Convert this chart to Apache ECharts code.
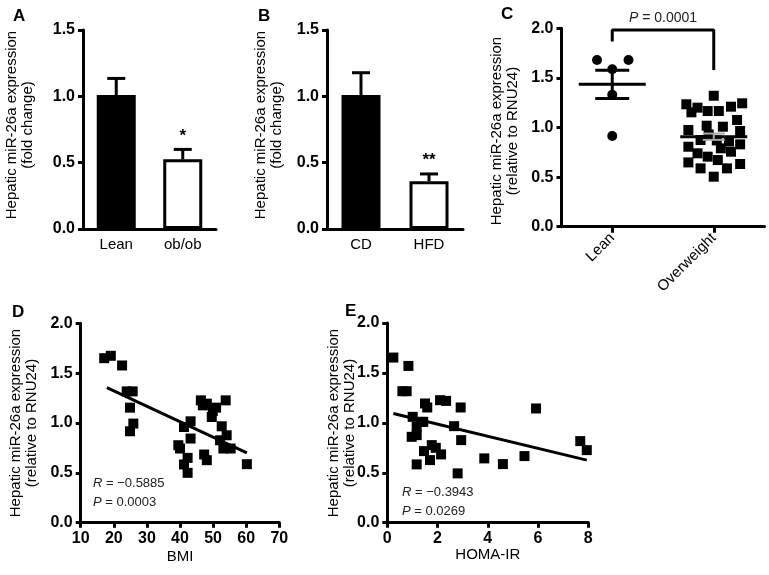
<!DOCTYPE html>
<html><head><meta charset="utf-8">
<script src="https://cdn.jsdelivr.net/npm/echarts@6/dist/echarts.min.js"></script>
<style>html,body{margin:0;padding:0;background:#fff}#c{width:769px;height:575px}</style>
</head><body><div id="c"></div>
<script>
// ---------- Panel A ----------
const catsA = ['Lean', 'ob/ob'];
const meanA = [1.01, 0.525];
const semA = [0.125, 0.075];
const sigA = ['', '*'];
// ---------- Panel B ----------
const catsB = ['CD', 'HFD'];
const meanB = [1.01, 0.36];
const semB = [0.168, 0.055];
const sigB = ['', '**'];
const ticksAB = [0, 0.5, 1.0, 1.5];
// ---------- Panel C ----------
const catsC = ['Lean', 'Overweight'];
const leanC = [1.68, 1.68, 1.587, 1.33, 0.914];
const leanJit = [-0.15, 0.16, 0, 0, 0];
const owC = [1.32, 1.234, 1.153, 1.20, 1.166, 1.166, 1.21, 1.244, 1.076, 0.975, 1.018, 1.008, 0.965, 0.874, 0.87, 0.86, 0.806, 0.83, 0.74, 0.706, 0.672, 0.756, 0.648, 0.588, 0.588, 0.632, 0.504, 0.79, 0.93];
const owJit = [0.0, -0.27, -0.22, -0.16, -0.06, 0.05, 0.17, 0.28, 0.23, -0.25, -0.07, 0.09, 0.26, -0.13, 0.03, 0.15, -0.25, 0.26, -0.16, -0.06, 0.04, 0.17, -0.25, -0.13, 0.13, 0.26, 0.0, 0.07, -0.05];
const meanC = [1.435, 0.907];
const semC = [0.142, 0.032];
const bracketX = [0, 0, 1, 1];
const bracketY = [1.866, 1.983, 1.983, 1.58];
const pC = '0.0001';
const ticksCDE = [0, 0.5, 1.0, 1.5, 2.0];
// ---------- Panel D ----------
const bmi = [17.1, 19.1, 22.5, 23.9, 25.7, 24.9, 24.9, 25.9, 39.5, 40.0, 41.2, 41.2, 42.3, 42.3, 43.2, 43.2, 46.3, 46.9, 48.1, 47.3, 48.1, 49.6, 49.9, 50.9, 52.6, 53.8, 52.1, 54.1, 53.1, 55.3, 60.2];
const exprD = [1.65, 1.674, 1.577, 1.317, 1.317, 1.154, 0.917, 0.994, 0.777, 0.744, 0.96, 0.584, 0.65, 0.50, 1.017, 0.844, 1.227, 1.177, 1.194, 0.684, 0.627, 1.06, 1.12, 1.154, 0.967, 1.227, 0.827, 0.877, 0.744, 0.744, 0.587];
const fitDx = [17.9, 60.2];
const fitDy = [1.354, 0.70];
const ticksBMI = [10, 20, 30, 40, 50, 60, 70];
const rD = '−0.5885', pD = '0.0003';
// ---------- Panel E ----------
const homa = [0.24, 0.84, 0.60, 0.77, 1.01, 1.17, 0.97, 1.17, 1.33, 1.43, 1.50, 1.59, 1.46, 1.77, 1.93, 1.70, 1.17, 2.14, 2.10, 2.34, 2.66, 2.92, 2.94, 2.80, 3.86, 4.60, 5.46, 5.92, 7.68, 7.94];
const exprE = [1.654, 1.57, 1.317, 1.317, 1.06, 0.96, 0.86, 0.877, 1.01, 1.01, 1.194, 1.154, 0.717, 0.777, 0.75, 0.627, 0.584, 0.684, 1.227, 1.22, 0.967, 1.154, 0.827, 0.494, 0.644, 0.587, 0.667, 1.144, 0.817, 0.727];
const fitEx = [0.24, 7.94];
const fitEy = [1.094, 0.627];
const ticksHOMA = [0, 2, 4, 6, 8];
const rE = '−0.3943', pE = '0.0269';

const FF = '"Liberation Sans", Arial, sans-serif';
const chart = echarts.init(document.getElementById('c'), null, {renderer: 'canvas'});

function valAxis(grid, ticks, extra) {
  return Object.assign({
    type: 'value', gridIndex: grid,
    min: ticks[0], max: ticks[ticks.length - 1], interval: ticks[1] - ticks[0],
    axisLine: {show: true, onZero: false, lineStyle: {color: '#000', width: 3}},
    axisTick: {show: true, length: 5, lineStyle: {color: '#000', width: 3}},
    axisLabel: {color: '#000', fontFamily: FF, fontWeight: 'bold', fontSize: 16, margin: 8},
    splitLine: {show: false}
  }, extra || {});
}
function catAxis(grid, cats, extra) {
  return Object.assign({
    type: 'category', gridIndex: grid, data: cats,
    axisLine: {show: true, onZero: false, lineStyle: {color: '#000', width: 3}},
    axisTick: {show: false},
    axisLabel: {color: '#000', fontFamily: FF, fontSize: 15, margin: 8},
    splitLine: {show: false}
  }, extra || {});
}

function errRender(sig) {
  return function (params, api) {
    const x = api.value(0), m = api.value(1), e = api.value(2);
    const base = api.coord([x, m]);
    const top = api.coord([x, m + e]);
    return {type: 'group', children: [
      {type: 'line', shape: {x1: base[0], y1: base[1], x2: top[0], y2: top[1]}, style: {stroke: '#000', lineWidth: 3}},
      {type: 'line', shape: {x1: top[0] - 9, y1: top[1], x2: top[0] + 9, y2: top[1]}, style: {stroke: '#000', lineWidth: 3}},
      {type: 'text', x: top[0], y: top[1] - 5, style: {text: sig[params.dataIndex], textAlign: 'center', textVerticalAlign: 'bottom', font: 'bold 17px ' + FF, fill: '#000'}}
    ]};
  };
}

function meanRender(params, api) {
  const gi = api.value(0), m = api.value(1), s = api.value(2);
  const i = params.dataIndex;
  const L = api.coord([gi - 0.33, m]), R = api.coord([gi + 0.33, m]);
  const top = api.coord([gi, m + s]), bot = api.coord([gi, m - s]);
  const cw = i === 0 ? 17 : 11;
  const col = i === 0 ? '#000' : '#a8a8a8';
  const lw = i === 0 ? 3 : 2;
  return {type: 'group', children: [
    {type: 'line', shape: {x1: L[0], y1: L[1], x2: R[0], y2: R[1]}, style: {stroke: '#000', lineWidth: 3}},
    {type: 'line', shape: {x1: top[0], y1: top[1], x2: bot[0], y2: bot[1]}, style: {stroke: col, lineWidth: lw}},
    {type: 'line', shape: {x1: top[0] - cw, y1: top[1], x2: top[0] + cw, y2: top[1]}, style: {stroke: col, lineWidth: lw}},
    {type: 'line', shape: {x1: bot[0] - cw, y1: bot[1], x2: bot[0] + cw, y2: bot[1]}, style: {stroke: col, lineWidth: lw}}
  ]};
}

const zip = (a, b) => a.map((v, i) => [v, b[i]]);
const yFmt = v => v.toFixed(1);
const dot = {color: '#000', opacity: 1};

function ytitle(x, y, t) {
  return {type: 'text', x: x, y: y, rotation: Math.PI / 2,
    style: {text: t, textAlign: 'center', textVerticalAlign: 'middle', font: '15px ' + FF, lineHeight: 16, fill: '#000'}};
}
function letter(x, y, t) {
  return {type: 'text', x: x, y: y, style: {text: t, textAlign: 'left', textVerticalAlign: 'middle', font: 'bold 17px ' + FF, fill: '#000'}};
}
function stat(x, y, k, v) {
  return {type: 'text', x: x, y: y, style: {text: '{i|' + k + '} = ' + v, textAlign: 'left', textVerticalAlign: 'middle', font: '13px ' + FF, fill: '#222',
    rich: {i: {fontStyle: 'italic', fontSize: 13, fontFamily: FF, fill: '#222'}}}};
}

const option = {
  backgroundColor: '#fff',
  animation: false,
  grid: [
    {left: 83, top: 30, width: 133, height: 199},
    {left: 327, top: 30, width: 136, height: 199},
    {left: 561.5, top: 28.3, width: 203, height: 198.4},
    {left: 80.7, top: 323.3, width: 198.6, height: 199.4},
    {left: 387.3, top: 323, width: 201, height: 199.7}
  ],
  xAxis: [
    catAxis(0, catsA),
    catAxis(1, catsB),
    catAxis(2, catsC, {axisTick: {show: true, alignWithLabel: true, length: 6, lineStyle: {color: '#000', width: 3}},
      axisLabel: {color: '#000', fontFamily: FF, fontSize: 15, rotate: 45, margin: 9}}),
    {type: 'value', gridIndex: 2, min: -0.5, max: 1.5, show: false},
    valAxis(3, ticksBMI, {name: 'BMI', nameLocation: 'middle', nameGap: 27, nameTextStyle: {color: '#000', fontFamily: FF, fontSize: 15}}),
    valAxis(4, ticksHOMA, {name: 'HOMA-IR', nameLocation: 'middle', nameGap: 25, nameTextStyle: {color: '#000', fontFamily: FF, fontSize: 15}})
  ],
  yAxis: [
    valAxis(0, ticksAB, {axisLabel: {color: '#000', fontFamily: FF, fontWeight: 'bold', fontSize: 16, margin: 8, formatter: yFmt}}),
    valAxis(1, ticksAB, {axisLabel: {color: '#000', fontFamily: FF, fontWeight: 'bold', fontSize: 16, margin: 8, formatter: yFmt}}),
    valAxis(2, ticksCDE, {axisLabel: {color: '#000', fontFamily: FF, fontWeight: 'bold', fontSize: 16, margin: 8, formatter: yFmt}}),
    valAxis(3, ticksCDE, {axisLabel: {color: '#000', fontFamily: FF, fontWeight: 'bold', fontSize: 16, margin: 8, formatter: yFmt}}),
    valAxis(4, ticksCDE, {axisLabel: {color: '#000', fontFamily: FF, fontWeight: 'bold', fontSize: 16, margin: 8, formatter: yFmt}})
  ],
  series: [
    // A
    {type: 'bar', xAxisIndex: 0, yAxisIndex: 0, barWidth: 39,
      data: meanA.map((v, i) => ({value: v, itemStyle: i === 0 ? {color: '#000'} : {color: '#fff', borderColor: '#000', borderWidth: 3}}))},
    {type: 'custom', xAxisIndex: 0, yAxisIndex: 0, renderItem: errRender(sigA), z: 3,
      data: meanA.map((v, i) => [i, v, semA[i]])},
    // B
    {type: 'bar', xAxisIndex: 1, yAxisIndex: 1, barWidth: 39,
      data: meanB.map((v, i) => ({value: v, itemStyle: i === 0 ? {color: '#000'} : {color: '#fff', borderColor: '#000', borderWidth: 3}}))},
    {type: 'custom', xAxisIndex: 1, yAxisIndex: 1, renderItem: errRender(sigB), z: 3,
      data: meanB.map((v, i) => [i, v, semB[i]])},
    // C
    {type: 'scatter', xAxisIndex: 3, yAxisIndex: 2, symbol: 'circle', symbolSize: 10, itemStyle: dot,
      data: leanC.map((v, i) => [0 + leanJit[i], v])},
    {type: 'scatter', xAxisIndex: 3, yAxisIndex: 2, symbol: 'rect', symbolSize: 10, itemStyle: dot,
      data: owC.map((v, i) => [1 + owJit[i], v])},
    {type: 'custom', xAxisIndex: 3, yAxisIndex: 2, renderItem: meanRender, z: 4,
      data: meanC.map((v, i) => [i, v, semC[i]])},
    {type: 'line', xAxisIndex: 3, yAxisIndex: 2, symbol: 'none', lineStyle: {color: '#000', width: 3},
      data: zip(bracketX, bracketY)},
    // D
    {type: 'scatter', xAxisIndex: 4, yAxisIndex: 3, symbol: 'rect', symbolSize: 10, itemStyle: dot,
      data: zip(bmi, exprD)},
    {type: 'line', xAxisIndex: 4, yAxisIndex: 3, symbol: 'none', lineStyle: {color: '#000', width: 3},
      data: zip(fitDx, fitDy)},
    // E
    {type: 'scatter', xAxisIndex: 5, yAxisIndex: 4, symbol: 'rect', symbolSize: 10, itemStyle: dot,
      data: zip(homa, exprE)},
    {type: 'line', xAxisIndex: 5, yAxisIndex: 4, symbol: 'none', lineStyle: {color: '#000', width: 3},
      data: zip(fitEx, fitEy)}
  ],
  graphic: [
    letter(13, 16, 'A'), letter(258, 16, 'B'), letter(501, 14, 'C'), letter(12, 312, 'D'), letter(345, 311, 'E'),
    ytitle(19.5, 125, 'Hepatic miR-26a expression\n(fold change)'),
    ytitle(269, 125, 'Hepatic miR-26a expression\n(fold change)'),
    ytitle(504.5, 131, 'Hepatic miR-26a expression\n(relative to RNU24)'),
    ytitle(23.5, 423, 'Hepatic miR-26a expression\n(relative to RNU24)'),
    ytitle(342, 423, 'Hepatic miR-26a expression\n(relative to RNU24)'),
    {type: 'text', x: 663, y: 18, style: {text: '{i|P} = ' + pC, textAlign: 'center', textVerticalAlign: 'middle', font: '14px ' + FF, fill: '#222',
      rich: {i: {fontStyle: 'italic', fontSize: 14, fontFamily: FF, fill: '#222'}}}},
    stat(93, 483, 'R', rD), stat(93, 502, 'P', pD),
    stat(402, 492, 'R', rE), stat(402, 511.5, 'P', pE)
  ]
};
chart.setOption(option);
</script>
</body></html>
